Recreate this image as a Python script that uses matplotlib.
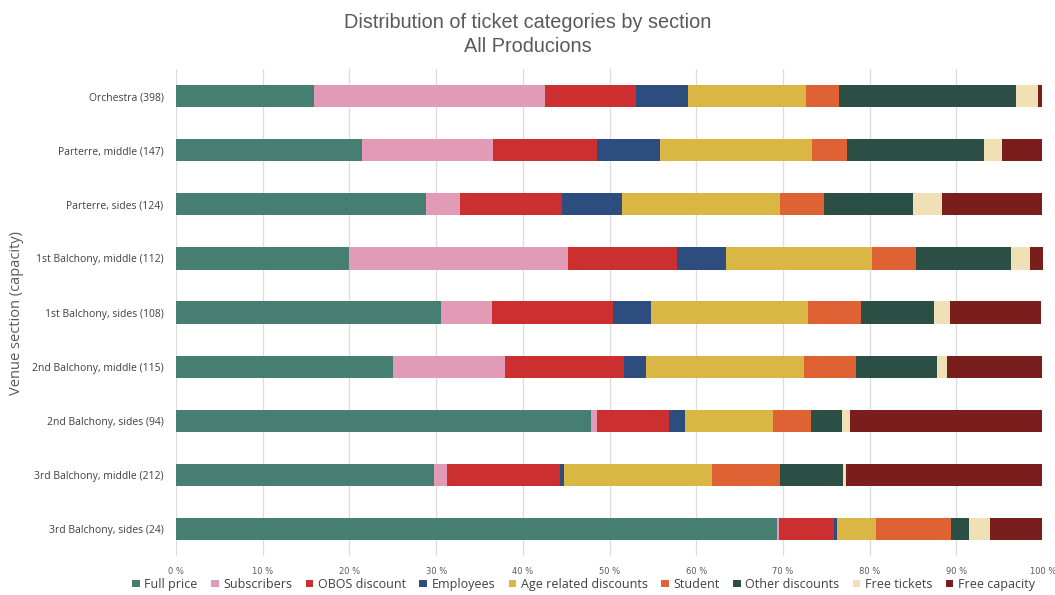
import numpy as np
import matplotlib.pyplot as plt
from matplotlib.ticker import FuncFormatter

# sections, top to bottom
sections = ['Orchestra (398)', 'Parterre, middle (147)', 'Parterre, sides (124)',
            '1st Balchony, middle (112)', '1st Balchony, sides (108)',
            '2nd Balchony, middle (115)', '2nd Balchony, sides (94)',
            '3rd Balchony, middle (212)', '3rd Balchony, sides (24)']

categories = ['Full price', 'Subscribers', 'OBOS discount', 'Employees',
              'Age related discounts', 'Student', 'Other discounts',
              'Free tickets', 'Free capacity']

# share of tickets (%) per section, one list per category
full_price    = [15.9, 21.5, 28.8, 19.9, 30.6, 25.0, 47.8, 29.8, 69.3]
subscribers   = [26.6, 15.0, 3.9, 25.3, 5.8, 12.9, 0.8, 1.4, 0.2]
obos          = [10.5, 12.0, 11.8, 12.6, 14.0, 13.8, 8.3, 13.1, 6.4]
employees     = [6.0, 7.3, 6.9, 5.6, 4.4, 2.5, 1.8, 0.5, 0.3]
age_related   = [13.7, 17.5, 18.2, 16.9, 18.1, 18.2, 10.2, 17.0, 4.5]
student       = [3.7, 4.1, 5.1, 5.0, 6.1, 6.0, 4.3, 7.8, 8.7]
other_disc    = [20.5, 15.8, 10.3, 11.0, 8.4, 9.3, 3.6, 7.3, 2.1]
free_tickets  = [2.5, 2.0, 3.3, 2.2, 1.8, 1.2, 0.9, 0.4, 2.4]
free_capacity = [0.5, 4.7, 11.6, 1.5, 10.6, 11.0, 22.2, 22.6, 6.0]

series = [full_price, subscribers, obos, employees, age_related,
          student, other_disc, free_tickets, free_capacity]
colors = ['#477e72', '#e29bb7', '#cc2f2f', '#2d4d7f', '#dab645',
          '#df6234', '#2b4e45', '#efe0b6', '#7a1d1d']

fig = plt.figure(figsize=(10.55, 5.95), dpi=100)
ax = fig.add_axes([0.1668, 0.0655, 0.822, 0.8185])

y = np.arange(len(sections))
left = np.zeros(len(sections))
for name, vals, col in zip(categories, series, colors):
    vals = np.array(vals, dtype=float)
    ax.barh(y, vals, left=left, height=0.41, color=col, label=name, zorder=3)
    left += vals

ax.set_xlim(0, 100)
ax.set_ylim(len(sections) - 0.5, -0.5)
ax.set_xticks(np.arange(0, 101, 10))
ax.xaxis.set_major_formatter(FuncFormatter(lambda v, p: f'{int(v)} %'))
ax.set_yticks(y)
ax.set_yticklabels(sections, fontsize=7.5, color='#404040', family='Open Sans')
ax.tick_params(axis='x', labelsize=6, colors='#595959', length=0, pad=8)
ax.tick_params(axis='y', length=0, pad=9)
ax.grid(axis='x', color='#dcdcdc', linewidth=0.9, zorder=0)
for s in ax.spines.values():
    s.set_visible(False)

ax.set_ylabel('Venue section (capacity)', fontsize=10.5, color='#595959',
              family='Open Sans', labelpad=6)
fig.suptitle('Distribution of ticket categories by section\nAll Producions',
             y=0.978, fontsize=14.3, color='#595959', linespacing=1.3,
             family='Liberation Sans')

fig.legend(loc='lower center', bbox_to_anchor=(0.553, -0.012), ncol=9,
           frameon=False, handlelength=0.6, handleheight=0.6,
           handletextpad=0.35, columnspacing=1.1, labelcolor='#404040',
           prop={'family': 'Open Sans', 'size': 9})

fig.savefig('out.png', dpi=100)
